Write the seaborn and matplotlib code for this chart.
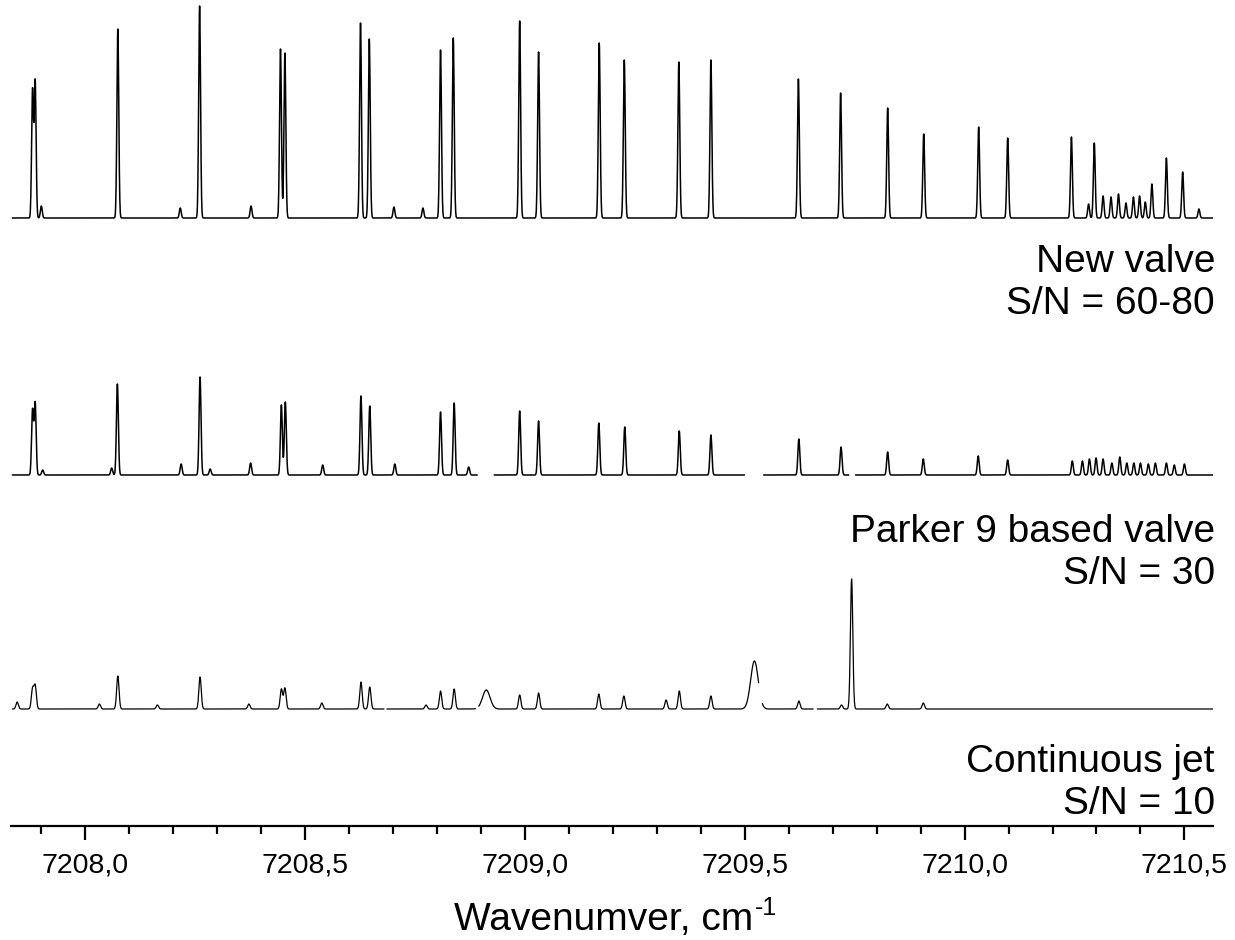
import numpy as np
import pandas as pd
import matplotlib
matplotlib.use("Agg")
import matplotlib.pyplot as plt
from matplotlib.ticker import MultipleLocator, FuncFormatter
from matplotlib.transforms import offset_copy
import seaborn as sns

# line positions (cm-1) and peak heights (arb. units)
new_pos = [7207.880, 7207.886, 7207.900, 7208.074, 7208.216, 7208.260, 7208.377, 7208.444, 7208.454,
           7208.626, 7208.646, 7208.702, 7208.768, 7208.808, 7208.837, 7208.988, 7209.031, 7209.169,
           7209.226, 7209.350, 7209.423, 7209.622, 7209.718, 7209.825, 7209.907, 7210.032, 7210.098,
           7210.243, 7210.282, 7210.295, 7210.315, 7210.333, 7210.350, 7210.367, 7210.384, 7210.398,
           7210.411, 7210.426, 7210.459, 7210.496, 7210.533]
new_amp = [128, 137, 12, 189, 10, 212, 12, 169, 165,
           195, 179, 11, 10, 168, 180, 197, 166, 175,
           158, 156, 158, 139, 125, 110, 84, 91, 80,
           81, 14, 75, 22, 21, 24, 15, 21, 22,
           16, 34, 60, 46, 9]

parker_pos = [7207.880, 7207.886, 7207.903, 7208.060, 7208.073, 7208.218, 7208.261, 7208.284, 7208.376,
              7208.446, 7208.455, 7208.540, 7208.627, 7208.647, 7208.704, 7208.808, 7208.839, 7208.872,
              7208.988, 7209.031, 7209.168, 7209.227, 7209.351, 7209.423, 7209.623, 7209.719, 7209.825,
              7209.906, 7210.031, 7210.098, 7210.245, 7210.268, 7210.284, 7210.299, 7210.315, 7210.335,
              7210.353, 7210.369, 7210.385, 7210.400, 7210.418, 7210.434, 7210.459, 7210.477, 7210.500]
parker_amp = [65, 72, 5, 7, 91, 11, 98, 6, 12,
              70, 73, 10, 79, 69, 11, 63, 72, 8,
              64, 54, 52, 48, 44, 40, 36, 28, 23,
              16, 19, 15, 14, 14, 16, 17, 16, 12,
              18, 12, 12, 12, 11, 12, 12, 10, 11]

jet_pos = [7207.845, 7207.880, 7207.886, 7208.032, 7208.074, 7208.164, 7208.261, 7208.372, 7208.446,
           7208.454, 7208.538, 7208.627, 7208.647, 7208.775, 7208.808, 7208.839, 7208.912, 7208.988,
           7209.031, 7209.168, 7209.225, 7209.321, 7209.351, 7209.423, 7209.522, 7209.623, 7209.720,
           7209.743, 7209.824, 7209.906]
jet_amp = [7, 20, 23, 5, 33, 4, 32, 5, 20,
           21, 6, 27, 22, 4, 18, 20, 19, 14,
           16, 15, 13, 9, 18, 13, 48, 8, 4,
           130, 5, 6]
jet_broad = [7208.912, 7209.522]

# missing stretches of each scan (cm-1)
new_bridged = [(7208.894, 7208.924), (7209.500, 7209.540)]
parker_gaps = [(7208.892, 7208.930), (7209.500, 7209.543), (7209.737, 7209.752)]
jet_gaps = [(7208.680, 7208.686), (7208.888, 7208.895), (7209.532, 7209.540), (7209.656, 7209.665)]

labels = ["New valve\nS/N = 60-80", "Parker 9 based valve\nS/N = 30", "Continuous jet\nS/N = 10"]

XMIN, XMAX = 7207.831, 7210.565
STEP = 0.0005


def build_trace(name, pos, amp, width, offset, gaps=(), bridged=(), broad=()):
    x = np.arange(7207.834, 7210.569, STEP)
    y = np.zeros_like(x)
    for p, a in zip(pos, amp):
        w = width * 3.2 if p in broad else width
        y += a * np.exp(-0.5 * ((x - p) / w) ** 2)
    seg = np.zeros(len(x), dtype=int)
    keep = np.ones(len(x), dtype=bool)
    for lo, hi in bridged:
        keep &= ~((x > lo) & (x < hi))
    for lo, hi in gaps:
        keep &= ~((x > lo) & (x < hi))
        seg[x >= hi] += 1
    return pd.DataFrame({"trace": name, "seg": seg[keep], "wn": x[keep], "y": y[keep] + offset})


sns.set_style("white")
plt.rcParams["font.family"] = ["Liberation Sans", "DejaVu Sans"]
plt.rcParams["text.color"] = "black"
plt.rcParams["xtick.color"] = "black"

fig = plt.figure(figsize=(12.35, 9.4), dpi=100)
ax = fig.add_axes([11 / 1235, 114 / 940, 1202 / 1235, 826 / 940])

top = build_trace("new", new_pos, new_amp, 0.0021, 608, bridged=new_bridged)
mid = build_trace("parker", parker_pos, parker_amp, 0.0022, 351, gaps=parker_gaps)
bot = build_trace("jet", jet_pos, jet_amp, 0.0027, 117, gaps=jet_gaps, broad=jet_broad)

sns.lineplot(data=top, x="wn", y="y", units="seg", estimator=None, color="black", lw=1.1, ax=ax)
sns.lineplot(data=mid, x="wn", y="y", units="seg", estimator=None, color="black", lw=1.1, ax=ax)
sns.lineplot(data=bot, x="wn", y="y", units="seg", estimator=None, color="black", lw=0.9, ax=ax)

ax.set_xlim(XMIN, XMAX)
ax.set_ylim(0, 826)
ax.set_yticks([])
ax.set_ylabel("")
ax.set_xlabel("")
for side in ["left", "right", "top"]:
    ax.spines[side].set_visible(False)
ax.spines["bottom"].set_linewidth(1.6)
ax.spines["bottom"].set_color("black")

ax.xaxis.set_major_locator(MultipleLocator(0.5))
ax.xaxis.set_minor_locator(MultipleLocator(0.1))
ax.xaxis.set_major_formatter(FuncFormatter(lambda v, p: f"{v:.1f}".replace(".", ",")))
ax.tick_params(axis="x", which="major", direction="out", length=10, width=1.6, pad=9,
               labelsize=20.5, labelcolor="black", color="black", bottom=True)
ax.tick_params(axis="x", which="minor", direction="out", length=5.5, width=1.6,
               color="black", bottom=True)

# captions at the right edge
label_y = [314, 584, 814]
for text, yb in zip(labels, label_y):
    fig.text(1215 / 1235, 1 - yb / 940, text, ha="right", va="baseline", fontsize=28,
             color="black", linespacing=1.22, multialignment="right")

# axis title with a raised "-1"
xl = fig.text(604 / 1235, 1 - 930 / 940, "Wavenumver, cm", ha="center", va="baseline",
              fontsize=28, color="black")
fig.canvas.draw()
bb = xl.get_window_extent()
fig.text(bb.x1 / fig.bbox.width + 0.001, 1 - 915 / 940, "-1", ha="left", va="baseline",
         fontsize=18, color="black")

fig.savefig("out.png", dpi=100)
